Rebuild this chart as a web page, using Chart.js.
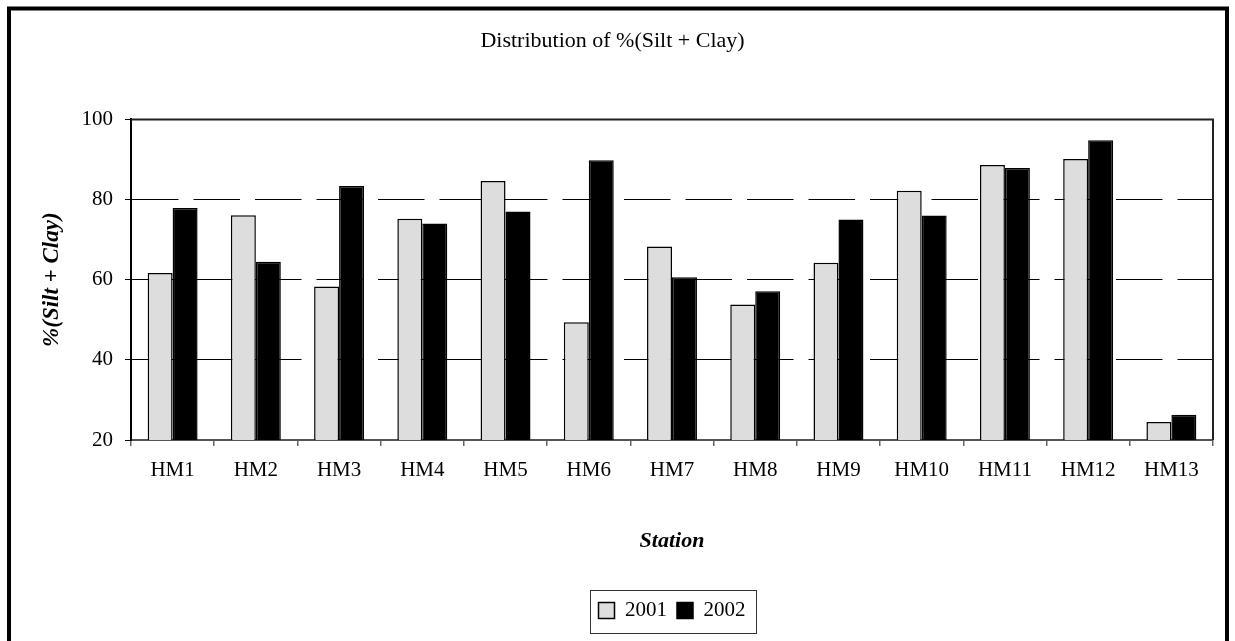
<!DOCTYPE html>
<html>
<head>
<meta charset="utf-8">
<script src="https://cdn.jsdelivr.net/npm/chart.js@4"></script>
<style>
  html, body { margin: 0; padding: 0; background: #fff; }
  canvas { display: block; }
</style>
</head>
<body>
<canvas id="siltChart" width="1235" height="641"></canvas>
<script>
// ----data---------
const stations = ["HM1", "HM2", "HM3", "HM4", "HM5", "HM6", "HM7", "HM8", "HM9", "HM10", "HM11", "HM12", "HM13"];
const seriesNames = ["2001", "2002"];
const silt2001 = [61.7, 76.1, 58.3, 75.2, 84.6, 49.4, 68.3, 53.8, 64.2, 82.2, 88.6, 90.1, 24.5];
const silt2002 = [77.9, 64.5, 83.4, 74.0, 77.0, 89.8, 60.6, 57.1, 75.0, 76.0, 87.9, 94.8, 26.3];
const yMin = 20;
const yMax = 100;
const yStep = 20;

const serif = "'Liberation Serif', 'Times New Roman', serif";

// outer black frame + top/right plot border + box round the legend
const framePlugin = {
  id: "frame",
  beforeDraw(chart) {
    const ctx = chart.ctx;
    ctx.save();
    ctx.fillStyle = "#fff";
    ctx.fillRect(0, 0, chart.width, chart.height);
    ctx.strokeStyle = "#000";
    ctx.lineWidth = 4;
    ctx.strokeRect(9, 8.5, 1218, 700);
    ctx.restore();
  },
  afterDraw(chart) {
    const ctx = chart.ctx;
    const a = chart.chartArea;
    ctx.save();
    ctx.strokeStyle = "#222";
    ctx.lineWidth = 2;
    ctx.beginPath();
    ctx.moveTo(a.left, a.top);
    ctx.lineTo(a.right, a.top);
    ctx.lineTo(a.right, a.bottom);
    ctx.stroke();

    const boxes = chart.legend.legendHitBoxes;
    if (boxes && boxes.length) {
      const l = Math.min(...boxes.map(b => b.left)) - 9;
      const r = Math.max(...boxes.map(b => b.left + b.width)) + 10;
      const cy = boxes[0].top + boxes[0].height / 2;
      ctx.strokeStyle = "#333";
      ctx.lineWidth = 1;
      ctx.strokeRect(Math.round(l) + 0.5, Math.round(cy - 21) + 0.5, Math.round(r - l), 43);
    }
    ctx.restore();
  },
};

const siltCanvas = document.getElementById("siltChart");

const siltChart = new Chart(siltCanvas, {
  type: "bar",
  data: {
    labels: stations,
    datasets: [
      {
        label: seriesNames[0],
        data: silt2001,
        backgroundColor: "#dddddd",
        borderColor: "#000",
        borderWidth: 1.5,
        categoryPercentage: 0.6,
        barPercentage: 1.0,
      },
      {
        label: seriesNames[1],
        data: silt2002,
        backgroundColor: "#000",
        borderColor: "#000",
        borderWidth: 1.5,
        categoryPercentage: 0.6,
        barPercentage: 1.0,
      },
    ],
  },
  options: {
    responsive: false,
    animation: false,
    layout: {
      padding: { left: 12, right: 22, top: 0, bottom: 10 },
    },
    scales: {
      x: {
        afterFit(scale) {
          scale.height = 150;
        },
        grid: {
          offset: true,
          drawOnChartArea: false,
          drawTicks: true,
          tickLength: 6,
          color: "#666",
          lineWidth: 1.5,
        },
        border: { color: "#555", width: 2 },
        ticks: {
          color: "#000",
          padding: 12,
          maxRotation: 0,
          font: { family: serif, size: 21 },
        },
        title: {
          display: true,
          text: "Station",
          color: "#000",
          padding: { top: 0, bottom: 35 },
          font: { family: serif, size: 22, weight: "bold", style: "italic" },
        },
      },
      y: {
        min: yMin,
        max: yMax,
        afterFit(scale) {
          scale.width = 119;
        },
        ticks: {
          stepSize: yStep,
          color: "#000",
          padding: 12,
          font: { family: serif, size: 21 },
        },
        grid: {
          color: (c) => (c.tick && (c.tick.value === yMin || c.tick.value === yMax) ? "rgba(0,0,0,0)" : "#000"),
          tickColor: "#000",
          tickLength: 6,
          lineWidth: 1,
          tickBorderDash: [],
        },
        border: { color: "#000", width: 2, dash: [46.5, 15] },
        title: {
          display: true,
          text: "%(Silt + Clay)",
          color: "#000",
          padding: { top: 26, bottom: 0 },
          font: { family: serif, size: 23, weight: "bold", style: "italic" },
        },
      },
    },
    plugins: {
      title: {
        display: true,
        text: "Distribution of %(Silt + Clay)",
        color: "#000",
        padding: { top: 28, bottom: 65 },
        font: { family: serif, size: 22, weight: "normal" },
      },
      legend: {
        position: "bottom",
        fullSize: false,
        labels: {
          color: "#000",
          boxWidth: 16,
          boxHeight: 16,
          padding: 10,
          font: { family: serif, size: 21 },
        },
      },
      tooltip: {
        enabled: false,
      },
    },
  },
  plugins: [framePlugin],
});
</script>
</body>
</html>
